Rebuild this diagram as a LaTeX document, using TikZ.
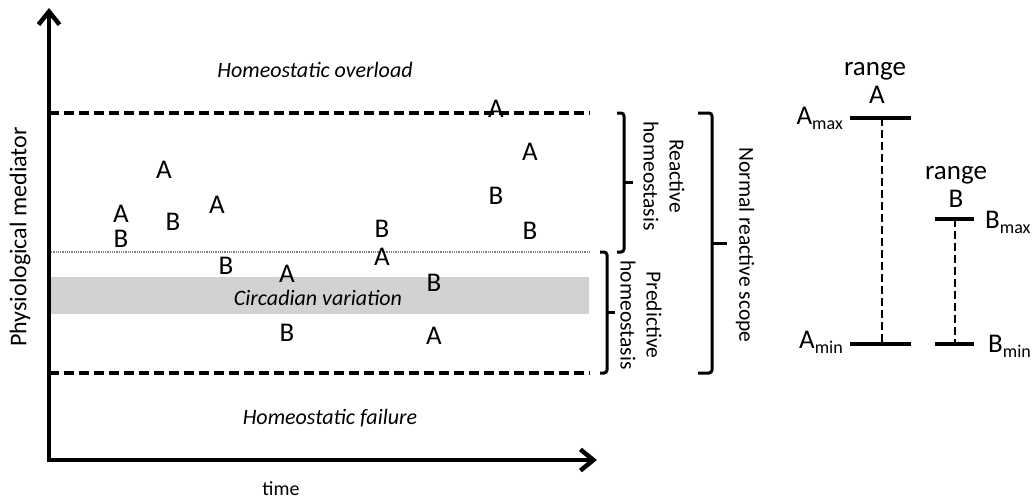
\documentclass[tikz,border=0pt]{standalone}
\usepackage{fontspec}
\setmainfont{Carlito}
\usetikzlibrary{arrows.meta}
\tikzset{
  axisline/.style={line width=4.5pt,-{Straight Barb[length=13pt,width=21pt,line width=4.5pt]}},
  limitline/.style={line width=3.4pt,dash pattern=on 10pt off 5pt},
  midline/.style={line width=1.2pt,gray,dash pattern=on 1pt off 0.8pt},
  bracepath/.style={line width=3pt,rounded corners=3pt},
  barline/.style={line width=3.2pt},
  bardash/.style={line width=2.8pt,dash pattern=on 8pt off 4pt},
  pt/.style={inner sep=0pt,font=\fontsize{27}{27}\selectfont},
  zone/.style={inner sep=0pt,font=\fontsize{22}{22}\selectfont\itshape},
  sidetxt/.style={inner sep=0pt,font=\fontsize{21.5}{26}\selectfont,align=center,rotate=-90},
  lbl/.style={inner sep=0pt,font=\fontsize{27}{27}\selectfont},
}
\newcommand{\subt}[1]{\raisebox{-5pt}{\fontsize{18}{18}\selectfont #1}}
\begin{document}
\begin{tikzpicture}[x=1pt,y=-1pt]
\useasboundingbox (0,0) rectangle (1033,499);
% band
\fill[gray!35] (49,277) rectangle (589,314);
\node[zone] (circ) at (318,298) {Circadian variation};
% coordinates
\coordinate (o) at (49,460);
\coordinate (ytop) at (49,8);
\coordinate (xo) at (47,460);
\coordinate (xend) at (597,460);
\coordinate (u1) at (49,113); \coordinate (u2) at (590,113);
\coordinate (m1) at (49,252); \coordinate (m2) at (590,252);
\coordinate (l1) at (49,373); \coordinate (l2) at (590,373);
% lines
\draw[limitline] (u1) -- (u2);
\draw[midline] (m1) -- (m2);
\draw[limitline] (l1) -- (l2);
\draw[axisline] ([yshift=2pt]o) -- (ytop);
\draw[axisline] (xo) -- (xend);
% axis labels
\node[rotate=90,inner sep=0pt,font=\fontsize{24}{24}\selectfont] (ylab) at (20,237) {Physiological mediator};
\node[inner sep=0pt,font=\fontsize{20}{20}\selectfont] (tlab) at (281,489) {time};
\node[zone] (over) at (315,70) {Homeostatic overload};
\node[zone] (fail) at (330,418) {Homeostatic failure};
% points
\node[pt] (p1) at (121,214) {A};
\node[pt] (p2) at (121,239) {B};
\node[pt] (p3) at (164,170) {A};
\node[pt] (p4) at (173,222) {B};
\node[pt] (p5) at (217,205) {A};
\node[pt] (p6) at (226,266) {B};
\node[pt] (p7) at (287,274) {A};
\node[pt] (p8) at (287,333) {B};
\node[pt] (p9) at (382,229) {B};
\node[pt] (p10) at (382,257) {A};
\node[pt] (p11) at (434,283) {B};
\node[pt] (p12) at (434,336) {A};
\node[pt] (p13) at (496,109) {A};
\node[pt] (p14) at (530,152) {A};
\node[pt] (p15) at (496,196) {B};
\node[pt] (p16) at (530,231) {B};
% braces
\draw[bracepath] (617,113) -- (624,113) -- (624,252) -- (617,252);
\draw[line width=3pt] (624,182) -- (633,182);
\node[sidetxt] (react) at (664,176) {Reactive\\homeostasis};
\draw[bracepath] (600,252) -- (607,252) -- (607,373) -- (600,373);
\draw[line width=3pt] (607,312) -- (615,312);
\node[sidetxt] (pred) at (641,315) {Predictive\\homeostasis};
\draw[bracepath] (698,113) -- (712,113) -- (712,373) -- (698,373);
\draw[line width=3pt] (712,243) -- (727,243);
\node[sidetxt] (scope) at (745,245) {Normal reactive scope};
% range A
\coordinate (at1) at (850,118); \coordinate (at2) at (911,118);
\coordinate (ab1) at (850,344); \coordinate (ab2) at (911,344);
\coordinate (av1) at (882,118); \coordinate (av2) at (882,344);
\draw[barline] (at1) -- (at2);
\draw[barline] (ab1) -- (ab2);
\draw[bardash] (av1) -- (av2);
\node[lbl,anchor=base] (rA) at (875,75) {range};
\node[lbl,anchor=base] (rAl) at (877,103) {A};
\node[lbl,anchor=base east] (amax) at (843,124) {A\subt{max}};
\node[lbl,anchor=base east] (amin) at (843,348) {A\subt{min}};
% range B
\coordinate (bt1) at (935,219); \coordinate (bt2) at (974,219);
\coordinate (bb1) at (935,344); \coordinate (bb2) at (974,344);
\coordinate (bv1) at (955,219); \coordinate (bv2) at (955,344);
\draw[barline] (bt1) -- (bt2);
\draw[barline] (bb1) -- (bb2);
\draw[bardash] (bv1) -- (bv2);
\node[lbl,anchor=base] (rB) at (956,179) {range};
\node[lbl,anchor=base] (rBl) at (956,207) {B};
\node[lbl,anchor=base west] (bmax) at (985,228) {B\subt{max}};
\node[lbl,anchor=base west] (bmin) at (988,352) {B\subt{min}};
\end{tikzpicture}
\end{document}
